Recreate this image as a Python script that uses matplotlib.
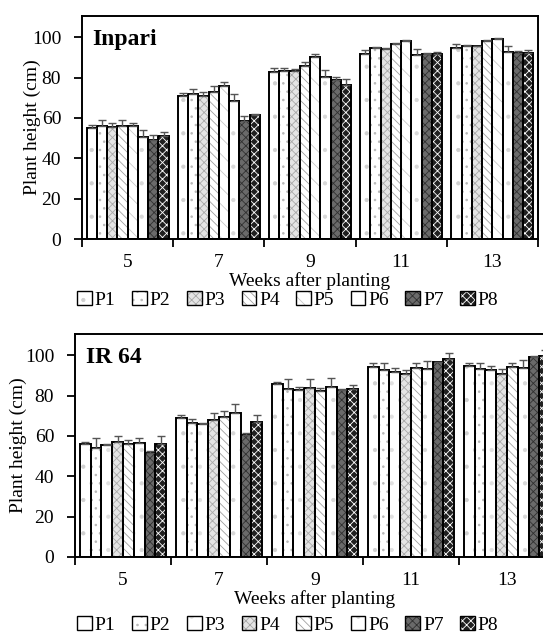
import matplotlib
matplotlib.use("Agg")
import matplotlib.pyplot as plt
from matplotlib.patches import Patch
import numpy as np

WEEKS = ["5", "7", "9", "11", "13"]
SERIES = ["P1", "P2", "P3", "P4", "P5", "P6", "P7", "P8"]

# Inpari: plant height (cm) per week, one list per treatment
INPARI = {
    "P1": [54.8, 70.8, 82.8, 91.9, 94.9],
    "P2": [55.9, 72.1, 83.5, 94.7, 95.7],
    "P3": [55.4, 71.1, 83.2, 94.1, 95.5],
    "P4": [55.9, 73.1, 85.5, 96.4, 97.9],
    "P5": [55.9, 75.9, 90.1, 97.9, 99.2],
    "P6": [50.8, 68.5, 80.2, 91.1, 92.7],
    "P7": [49.3, 58.6, 78.6, 91.8, 92.4],
    "P8": [51.0, 61.4, 76.1, 91.6, 92.4],
}
INPARI_ERR = {
    "P1": [1.6, 1.5, 2.0, 1.7, 1.6],
    "P2": [2.9, 2.3, 1.3, 0.5, 0.3],
    "P3": [2.2, 1.8, 1.0, 0.6, 0.3],
    "P4": [2.9, 2.6, 2.0, 0.5, 0.5],
    "P5": [1.7, 1.8, 1.8, 0.5, 0.5],
    "P6": [3.3, 3.3, 3.8, 3.1, 3.0],
    "P7": [2.2, 2.6, 1.7, 0.6, 0.8],
    "P8": [2.1, 0.8, 3.0, 1.1, 1.2],
}

# IR 64
IR64 = {
    "P1": [55.8, 68.7, 85.6, 94.2, 94.6],
    "P2": [53.8, 66.2, 83.2, 92.6, 93.1],
    "P3": [55.6, 66.0, 82.7, 91.7, 92.6],
    "P4": [56.8, 67.8, 83.8, 90.6, 90.9],
    "P5": [55.9, 69.5, 82.2, 93.4, 93.9],
    "P6": [56.6, 71.1, 84.3, 93.1, 93.4],
    "P7": [51.6, 60.4, 82.7, 96.4, 99.2],
    "P8": [55.8, 67.0, 83.2, 98.0, 99.8],
}
IR64_ERR = {
    "P1": [1.0, 1.6, 1.2, 2.0, 1.6],
    "P2": [5.3, 2.3, 4.9, 3.6, 3.1],
    "P3": [0.5, 0.5, 1.6, 1.7, 2.0],
    "P4": [3.1, 3.6, 4.3, 2.0, 2.3],
    "P5": [2.2, 2.6, 1.6, 2.5, 2.0],
    "P6": [2.6, 4.6, 4.3, 4.1, 4.1],
    "P7": [0.7, 1.1, 0.5, 0.3, 0.5],
    "P8": [4.1, 3.4, 1.9, 3.1, 3.0],
}

# (face, hatch, hatch colour) per treatment
STYLE_TOP = [
    ("white", ".", "#d0d0d0"),
    ("white", "..", "#b8b8b8"),
    ("#e4e4e4", "xxxx", "#a8a8a8"),
    ("white", "\\\\\\\\", "#a0a0a0"),
    ("white", "\\\\", "#c8c8c8"),
    ("white", ".", "#d8d8d8"),
    ("#6a6a6a", "xxxx", "#303030"),
    ("#202020", "xxxx", "#ffffff"),
]
STYLE_BOT = [
    ("white", ".", "#d0d0d0"),
    ("white", "..", "#b8b8b8"),
    ("white", ".", "#e0e0e0"),
    ("#e4e4e4", "xxxx", "#a8a8a8"),
    ("white", "\\\\\\\\", "#a0a0a0"),
    ("white", ".", "#d8d8d8"),
    ("#6a6a6a", "xxxx", "#303030"),
    ("#202020", "xxxx", "#ffffff"),
]

plt.rcParams["font.family"] = ["Liberation Serif", "DejaVu Serif"]
plt.rcParams["font.size"] = 14
plt.rcParams["hatch.linewidth"] = 0.6


def panel(ax, data, err, styles, title, legend_y, ylab_x):
    x = np.arange(len(WEEKS))
    w = 0.9 / len(SERIES)
    handles = []
    for i, s in enumerate(SERIES):
        fc, h, hc = styles[i]
        pos = x + (i - 3.5) * w
        ax.bar(pos, data[s], w, color=fc, edgecolor=hc, hatch=h, linewidth=0, zorder=2)
        ax.bar(pos, data[s], w, fill=False, edgecolor="black", linewidth=1.4, zorder=3)
        ax.errorbar(pos, data[s], yerr=[np.zeros(len(x)), err[s]], fmt="none",
                    ecolor="#555555", elinewidth=1.0, capsize=3, capthick=1.0, zorder=4)
        handles.append((Patch(facecolor=fc, edgecolor=hc, hatch=h, linewidth=0),
                        Patch(fill=False, edgecolor="black", linewidth=1.0)))
    ax.set_xlim(-0.5, len(WEEKS) - 0.5)
    ax.set_ylim(0, 110.5)
    ax.set_yticks(range(0, 101, 20))
    ax.set_xticks(x)
    ax.set_xticklabels(WEEKS)
    ax.set_xticks(np.arange(len(WEEKS) + 1) - 0.5, minor=True)
    ax.tick_params(axis="x", which="major", length=0, pad=11)
    ax.tick_params(axis="x", which="minor", length=6, width=1.3, direction="out")
    ax.tick_params(axis="y", length=6, width=1.3, direction="out", pad=9)
    for sp in ax.spines.values():
        sp.set_linewidth(1.4)
    ax.set_xlabel("Weeks after planting", labelpad=0.5)
    ax.set_ylabel("Plant height (cm)")
    ax.yaxis.set_label_coords(ylab_x, 0.5)
    ax.text(0.022, 0.94, title, transform=ax.transAxes, fontsize=17,
            fontweight="bold", va="top", ha="left")
    fig.legend(handles, SERIES, loc="center", bbox_to_anchor=(0.53, legend_y), ncol=8,
               frameon=False, handlelength=0.75, handleheight=0.75, handletextpad=0.15,
               columnspacing=0.85, borderpad=0, fontsize=14)


fig = plt.figure(figsize=(5.43, 6.34), dpi=100)
ax1 = fig.add_axes([0.1510, 0.6230, 0.8398, 0.3517])
ax2 = fig.add_axes([0.1381, 0.1215, 0.8840, 0.3517])
panel(ax1, INPARI, INPARI_ERR, STYLE_TOP, "Inpari", 0.5270, -0.09)
panel(ax2, IR64, IR64_ERR, STYLE_BOT, "IR 64", 0.0140, -0.10)

fig.savefig("out.png", dpi=100)
